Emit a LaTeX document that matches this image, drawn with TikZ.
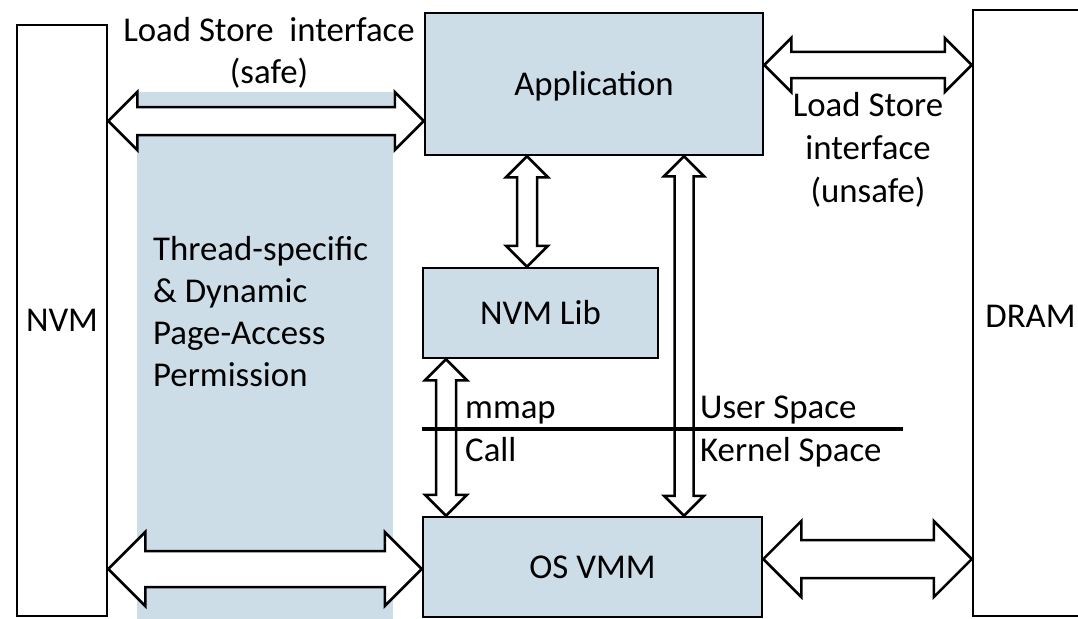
\documentclass[tikz,border=0pt]{standalone}
\usepackage{fontspec}
\setmainfont{Carlito}
\usetikzlibrary{calc}
\definecolor{paleblue}{RGB}{204,221,232}
\newcommand{\dfont}{\fontsize{34.8}{42}\selectfont}
\tikzset{
  box/.style={draw=black, line width=2.5pt, fill=paleblue, inner sep=0pt, font=\dfont, text height=22pt, text depth=0pt},
  memory/.style={draw=black, line width=2.5pt, fill=white, inner sep=0pt, font=\dfont, text height=22pt, text depth=0pt},
  arrowbody/.style={draw=black, fill=white, line width=2.5pt, line join=miter},
  lbl/.style={inner sep=0pt, font=\dfont},
  divider/.style={line width=3.5pt}
}
\newcommand{\blockarrow}[4]{%
  \coordinate (ba-p) at ($(#1)!#4!(#2)$);
  \coordinate (ba-q) at ($(#2)!#4!(#1)$);
  \draw[arrowbody] (#1)
    -- ($(ba-p)!#4!90:(#2)$) -- ($(ba-p)!#3!90:(#2)$)
    -- ($(ba-q)!#3!-90:(#1)$) -- ($(ba-q)!#4!-90:(#1)$)
    -- (#2)
    -- ($(ba-q)!#4!90:(#1)$) -- ($(ba-q)!#3!90:(#1)$)
    -- ($(ba-p)!#3!-90:(#2)$) -- ($(ba-p)!#4!-90:(#2)$)
    -- cycle;
}
\begin{document}
\begin{tikzpicture}[x=1pt,y=-1pt]
\useasboundingbox (0,0) rectangle (1078,618);
\clip (0,0) rectangle (1078,618);
% shaded permission column
\fill[paleblue] (137,92) rectangle (393,640);
% memories
\node[memory, minimum width=90, minimum height=591] (nvm) at (62,320.5) {NVM};
\node[memory, minimum width=115, minimum height=606, text height=28pt] (dram) at (1030.5,313) {DRAM};
% software boxes
\node[box, minimum width=338, minimum height=142] (app) at (594,84) {Application};
\node[box, minimum width=235, minimum height=90] (lib) at (540.5,313) {NVM Lib};
\node[box, minimum width=339, minimum height=100] (vmm) at (592.5,567) {OS VMM};
% connector end points
\coordinate (a1s) at (nvm.east |- 0,121);  \coordinate (a1e) at (app.west |- 0,121);
\coordinate (a2s) at (nvm.east |- 0,569);  \coordinate (a2e) at (vmm.west |- 0,569);
\coordinate (a3s) at (app.east |- 0,65);   \coordinate (a3e) at (dram.west |- 0,65);
\coordinate (a4s) at (vmm.east |- 0,559);  \coordinate (a4e) at (dram.west |- 0,559);
\coordinate (a5s) at (app.south -| 527,0); \coordinate (a5e) at (lib.north -| 527,0);
\coordinate (a6s) at (lib.south -| 446,0); \coordinate (a6e) at (vmm.north -| 446,0);
\coordinate (a7s) at (app.south -| 684,0); \coordinate (a7e) at (vmm.north -| 684,0);
% connectors
\blockarrow{a1s}{a1e}{14pt}{29pt}
\blockarrow{a2s}{a2e}{18pt}{37pt}
\blockarrow{a3s}{a3e}{13pt}{27pt}
\blockarrow{a4s}{a4e}{19pt}{38pt}
\blockarrow{a5s}{a5e}{10pt}{21pt}
\blockarrow{a6s}{a6e}{10pt}{21pt}
\blockarrow{a7s}{a7e}{9.5pt}{20pt}
% user / kernel divider
\coordinate (divL) at (422,429);
\coordinate (divR) at (903,429);
\draw[divider] (divL) -- (divR);
% labels
\node[lbl, align=center] (lsafe) at (269,53) {Load Store\ \ interface\\(safe)};
\node[lbl, align=center, font=\fontsize{34.8}{43}\selectfont] (lunsafe) at (868,150) {Load Store\\interface\\(unsafe)};
\node[lbl, align=left, anchor=west] (perm) at (153,312) {Thread-specific\\\& Dynamic\\Page-Access\\Permission};
\node[lbl, anchor=base west] (mmap) at (465,418) {mmap};
\node[lbl, anchor=base west] (call) at (465,461) {Call};
\node[lbl, anchor=base west] (user) at (700,418) {User Space};
\node[lbl, anchor=base west] (kern) at (700,461) {Kernel Space};
\end{tikzpicture}
\end{document}
